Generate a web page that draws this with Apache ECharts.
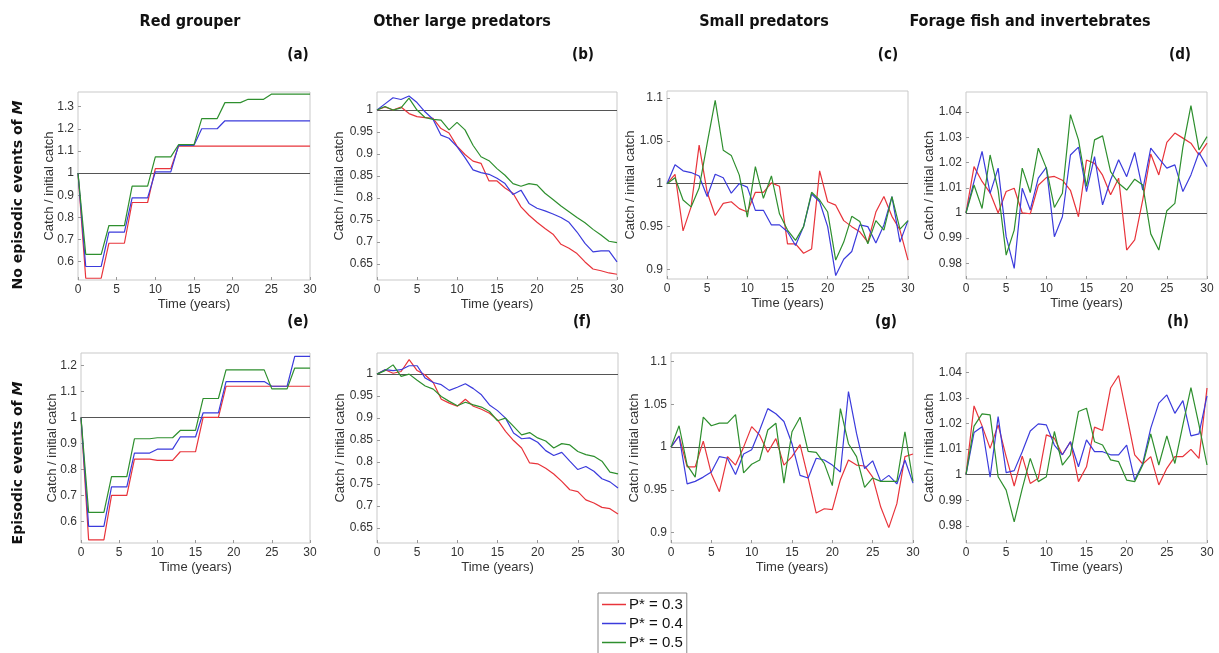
<!DOCTYPE html>
<html><head><meta charset="utf-8">
<script src="https://cdn.jsdelivr.net/npm/echarts@6/dist/echarts.min.js"></script>
<style>html,body{margin:0;padding:0;background:#fff}#c{width:1219px;height:653px}</style>
</head><body><div id="c"></div>
<script>
// ---------- DATA ----------
const years = [0,1,2,3,4,5,6,7,8,9,10,11,12,13,14,15,16,17,18,19,20,21,22,23,24,25,26,27,28,29,30];
const seriesNames = ['P* = 0.3', 'P* = 0.4', 'P* = 0.5'];
const columnTitles = ['Red grouper', 'Other large predators', 'Small predators', 'Forage fish and invertebrates'];
const panelLetters = ['(a)', '(b)', '(c)', '(d)', '(e)', '(f)', '(g)', '(h)'];
const rowLabels = ['No episodic events of ', 'Episodic events of '];
const rowLabelItalic = 'M';
const xAxisTitle = 'Time (years)';
const yAxisTitle = 'Catch / initial catch';
const referenceValue = 1;

// (a) Red grouper, no episodic events
const redA   = [1,0.525,0.525,0.525,0.683,0.683,0.683,0.867,0.867,0.867,1.02,1.02,1.02,1.122,1.122,1.122,1.122,1.122,1.122,1.122,1.122,1.122,1.122,1.122,1.122,1.122,1.122,1.122,1.122,1.122,1.122];
const blueA  = [1,0.578,0.578,0.578,0.733,0.733,0.733,0.888,0.888,0.888,1.005,1.005,1.005,1.125,1.125,1.125,1.2,1.2,1.2,1.236,1.236,1.236,1.236,1.236,1.236,1.236,1.236,1.236,1.236,1.236,1.236];
const greenA = [1,0.633,0.633,0.633,0.763,0.763,0.763,0.941,0.941,0.941,1.073,1.073,1.073,1.128,1.128,1.128,1.246,1.246,1.246,1.318,1.318,1.318,1.333,1.333,1.333,1.356,1.356,1.356,1.356,1.356,1.356];
const yTicksA = [0.6,0.7,0.8,0.9,1,1.1,1.2,1.3];
const yRangeA = [0.517, 1.366];

// (b) Other large predators, no episodic events
const redB   = [1,1.007,1,1.007,0.992,0.985,0.983,0.981,0.958,0.948,0.918,0.899,0.884,0.879,0.839,0.839,0.823,0.811,0.78,0.761,0.745,0.731,0.718,0.695,0.686,0.674,0.655,0.639,0.635,0.63,0.627];
const blueB  = [1,1.014,1.028,1.024,1.032,1.017,0.996,0.979,0.943,0.936,0.917,0.892,0.864,0.858,0.854,0.845,0.833,0.808,0.818,0.788,0.777,0.771,0.764,0.756,0.745,0.723,0.697,0.678,0.68,0.68,0.655];
const greenB = [1,1.008,1,1.005,1.027,1,0.983,0.979,0.977,0.955,0.972,0.955,0.92,0.894,0.885,0.867,0.852,0.833,0.827,0.833,0.83,0.811,0.797,0.782,0.769,0.756,0.744,0.729,0.716,0.702,0.699];
const yTicksB = [0.65,0.7,0.75,0.8,0.85,0.9,0.95,1];
const yRangeB = [0.614, 1.041];

// (c) Small predators, no episodic events
const redC   = [1,1.011,0.945,0.973,1.045,0.99,0.963,0.977,0.979,0.971,0.967,0.99,0.99,1.001,0.997,0.93,0.93,0.919,0.924,1.015,0.979,0.975,0.957,0.95,0.944,0.932,0.967,0.985,0.962,0.946,0.911];
const blueC  = [1,1.022,1.015,1.013,1.009,0.985,1.011,1.007,0.989,1,0.996,0.969,0.969,0.952,0.952,0.944,0.928,0.95,0.988,0.979,0.95,0.893,0.912,0.921,0.952,0.95,0.931,0.952,0.985,0.932,0.957];
const greenC = [1,1.007,0.981,0.973,0.995,1.047,1.097,1.039,1.033,1.01,0.961,1.02,0.983,1.009,0.965,0.946,0.934,0.95,0.99,0.981,0.967,0.911,0.932,0.962,0.956,0.93,0.957,0.946,0.985,0.947,0.957];
const yTicksC = [0.9,0.95,1,1.05,1.1];
const yRangeC = [0.889, 1.108];

// (d) Forage fish and invertebrates, no episodic events
const redD   = [1,1.0184,1.0125,1.008,1,1.0085,1.0098,1,0.9997,1.011,1.014,1.0145,1.013,1.009,0.9985,1.021,1.0197,1.015,1.0072,1.0138,0.9853,0.9893,1.0052,1.0234,1.0151,1.028,1.0317,1.0297,1.0277,1.023,1.0277];
const blueD  = [1,1.0125,1.0244,1.0078,1.0178,0.9906,0.978,1.0098,1.0012,1.0138,1.0181,0.9906,0.9985,1.023,1.0261,1.0085,1.0224,1.0032,1.0131,1.0211,1.0144,1.024,1.0091,1.0257,1.0217,1.0178,1.0191,1.0085,1.0151,1.024,1.0184];
const greenD = [1,1.0111,1.0018,1.023,1.0091,0.9833,0.9932,1.0178,1.0081,1.0257,1.0178,1.0022,1.0078,1.039,1.029,1.0105,1.029,1.0306,1.0164,1.0118,1.0091,1.0134,1.0111,0.9917,0.9853,1.0009,1.0038,1.0261,1.0426,1.025,1.0303];
const yTicksD = [0.98,0.99,1,1.01,1.02,1.03,1.04];
const yRangeD = [0.9738, 1.048];

// (e) Red grouper, episodic events
const redE   = [1,0.529,0.529,0.529,0.7,0.7,0.7,0.84,0.84,0.84,0.835,0.835,0.835,0.868,0.868,0.868,1,1,1,1.12,1.12,1.12,1.12,1.12,1.12,1.12,1.12,1.12,1.12,1.12,1.12];
const blueE  = [1,0.581,0.581,0.581,0.733,0.733,0.733,0.863,0.863,0.863,0.878,0.878,0.878,0.925,0.925,0.925,1.018,1.018,1.018,1.138,1.138,1.138,1.138,1.138,1.138,1.12,1.12,1.12,1.235,1.235,1.235];
const greenE = [1,0.635,0.635,0.635,0.772,0.772,0.772,0.918,0.918,0.918,0.922,0.922,0.922,0.95,0.95,0.95,1.073,1.073,1.073,1.183,1.183,1.183,1.183,1.183,1.183,1.11,1.11,1.11,1.19,1.19,1.19];
const yTicksE = [0.6,0.7,0.8,0.9,1,1.1,1.2];
const yRangeE = [0.517, 1.248];

// (f) Other large predators, episodic events
const redF   = [1,1.01,1.002,1.006,1.033,1.008,0.998,0.981,0.943,0.934,0.927,0.943,0.927,0.92,0.911,0.896,0.87,0.849,0.832,0.798,0.796,0.786,0.773,0.756,0.737,0.733,0.714,0.707,0.697,0.694,0.682];
const blueF  = [1,1.01,1.008,1.01,1.019,1.019,0.991,0.981,0.976,0.963,0.97,0.978,0.967,0.953,0.93,0.917,0.9,0.866,0.853,0.855,0.845,0.826,0.815,0.822,0.802,0.783,0.79,0.779,0.762,0.755,0.741];
const greenF = [1,1.008,1.021,0.995,1,0.986,0.973,0.966,0.949,0.938,0.928,0.936,0.93,0.925,0.915,0.894,0.9,0.881,0.862,0.867,0.855,0.848,0.832,0.842,0.839,0.824,0.817,0.813,0.802,0.777,0.773];
const yTicksF = [0.65,0.7,0.75,0.8,0.85,0.9,0.95,1];
const yRangeF = [0.616, 1.048];

// (g) Small predators, episodic events
const redG   = [1,1.013,0.977,0.977,1.007,0.969,0.948,0.989,0.979,1,1.024,1.014,0.994,1.01,0.979,0.989,1.003,0.964,0.923,0.928,0.927,0.962,0.985,0.979,0.978,0.965,0.93,0.906,0.934,0.989,0.992];
const blueG  = [1,1.013,0.957,0.96,0.965,0.971,0.989,0.987,0.968,0.992,0.997,1.02,1.045,1.039,1.03,1.004,0.967,0.964,0.987,0.985,0.979,0.971,1.065,1.016,0.975,0.984,0.96,0.967,0.957,0.985,0.958];
const greenG = [1,1.025,0.979,0.965,1.035,1.025,1.028,1.028,1.038,0.97,0.98,0.985,1.02,1.028,0.958,1.018,1.035,0.995,0.994,0.981,0.955,1.045,1.004,0.989,0.953,0.964,0.96,0.96,0.96,1.018,0.96];
const yTicksG = [0.9,0.95,1,1.05,1.1];
const yRangeG = [0.888, 1.11];

// (h) Forage fish and invertebrates, episodic events
const redH   = [1,1.0269,1.0191,1.0103,1.0195,1.0071,0.9956,1.0073,0.9966,0.9986,1.0156,1.0143,1.0078,1.0129,0.9973,1.0031,1.0186,1.0173,1.0339,1.0388,1.0234,1.0078,1.0042,1.0071,0.996,1.0025,1.0071,1.0071,1.0099,1.0064,1.0339];
const blueH  = [1,1.0165,1.0188,0.999,1.0227,1.0008,1.0016,1.009,1.0171,1.0199,1.0195,1.0116,1.0078,1.0129,1.0031,1.0136,1.009,1.009,1.0078,1.0078,1.0116,0.9979,1.0044,1.0182,1.028,1.0312,1.024,1.029,1.0152,1.016,1.0308];
const greenH = [1,1.019,1.0238,1.0234,0.9992,0.994,0.9816,0.9946,1.0064,0.9973,0.9992,1.0169,1.0038,1.0078,1.0247,1.026,1.0129,1.0116,1.0058,1.0051,0.9979,0.9973,1.0038,1.016,1.0038,1.0152,1.0044,1.0195,1.0341,1.0195,1.0038];
const yTicksH = [0.98,0.99,1,1.01,1.02,1.03,1.04];
const yRangeH = [0.9733, 1.0476];

// ---------- LAYOUT / STYLE ----------
const colors = ['#e8343b', '#3b3bdc', '#2e8f2e'];
const panels = [
  {r: redA, b: blueA, g: greenA, t: yTicksA, y: yRangeA, box: [78, 92, 232, 188], nameGap: 22},
  {r: redB, b: blueB, g: greenB, t: yTicksB, y: yRangeB, box: [377, 92, 240, 188], nameGap: 31},
  {r: redC, b: blueC, g: greenC, t: yTicksC, y: yRangeC, box: [667, 91, 241, 188], nameGap: 30},
  {r: redD, b: blueD, g: greenD, t: yTicksD, y: yRangeD, box: [966, 92, 241, 187], nameGap: 30},
  {r: redE, b: blueE, g: greenE, t: yTicksE, y: yRangeE, box: [81, 353, 229, 190], nameGap: 22},
  {r: redF, b: blueF, g: greenF, t: yTicksF, y: yRangeF, box: [377, 353, 241, 190], nameGap: 30},
  {r: redG, b: blueG, g: greenG, t: yTicksG, y: yRangeG, box: [671, 353, 242, 190], nameGap: 30},
  {r: redH, b: blueH, g: greenH, t: yTicksH, y: yRangeH, box: [966, 353, 241, 190], nameGap: 30}
];
const titleX = [190, 462, 764, 1030];
const letterPos = [[298,55],[583,55],[888,55],[1180,55],[298,322],[582,322],[886,322],[1178,322]];
const rowLabelPos = [[18,195],[18,463]];

const labelFont = {fontFamily: 'Liberation Sans, Arial, sans-serif', fontSize: 12, color: '#333'};
const boldFont = "'DejaVu Sans Condensed', 'DejaVu Sans', sans-serif";

const grid = [], xAxis = [], yAxis = [], series = [];
panels.forEach((p, i) => {
  grid.push({left: p.box[0], top: p.box[1], width: p.box[2], height: p.box[3],
    show: true, borderColor: '#c9c9c9', borderWidth: 1, backgroundColor: '#fff', containLabel: false});
  xAxis.push({type: 'value', gridIndex: i, min: 0, max: 30, interval: 5,
    name: xAxisTitle, nameLocation: 'middle', nameGap: 18, nameMoveOverlap: false,
    nameTextStyle: {fontFamily: labelFont.fontFamily, fontSize: 13, color: '#333'},
    axisLine: {show: false},
    axisTick: {show: true, inside: true, length: 3, lineStyle: {color: '#999'}},
    axisLabel: Object.assign({margin: 4}, labelFont),
    splitLine: {show: false}});
  yAxis.push({type: 'value', gridIndex: i, min: p.y[0], max: p.y[1],
    name: yAxisTitle, nameLocation: 'middle', nameGap: p.nameGap, nameRotate: 90, nameMoveOverlap: false,
    nameTextStyle: {fontFamily: labelFont.fontFamily, fontSize: 13, color: '#333'},
    axisLine: {show: false},
    axisTick: {show: true, inside: true, length: 3, customValues: p.t, lineStyle: {color: '#999'}},
    axisLabel: Object.assign({margin: 4, customValues: p.t, formatter: v => String(v)}, labelFont),
    splitLine: {show: false}});
  [p.r, p.b, p.g].forEach((arr, k) => {
    const s = {
      name: seriesNames[k], type: 'line', xAxisIndex: i, yAxisIndex: i,
      data: years.map((yr, j) => [yr, arr[j]]),
      showSymbol: false, symbol: 'none', animation: false,
      lineStyle: {color: colors[k], width: 1.2}, itemStyle: {color: colors[k]},
      z: 3
    };
    if (k === 0) {
      s.markLine = {silent: true, symbol: 'none', label: {show: false}, animation: false,
        lineStyle: {color: '#555', width: 1.2, type: 'solid'},
        data: [{yAxis: referenceValue}], z: 2};
    }
    series.push(s);
  });
});

const graphic = [];
columnTitles.forEach((t, i) => graphic.push({type: 'text', x: titleX[i], y: 22,
  style: {text: t, fontFamily: boldFont, fontWeight: 'bold', fontSize: 16, fill: '#111', textAlign: 'center', textVerticalAlign: 'middle'}}));
panelLetters.forEach((t, i) => graphic.push({type: 'text', x: letterPos[i][0], y: letterPos[i][1],
  style: {text: t, fontFamily: boldFont, fontWeight: 'bold', fontSize: 15, fill: '#111', textAlign: 'center', textVerticalAlign: 'middle'}}));
rowLabels.forEach((t, i) => graphic.push({type: 'text', x: rowLabelPos[i][0], y: rowLabelPos[i][1], rotation: Math.PI / 2,
  style: {text: '{b|' + t + '}{i|' + rowLabelItalic + '}', textAlign: 'center', textVerticalAlign: 'middle',
    rich: {b: {fontFamily: "'DejaVu Sans', sans-serif", fontWeight: 'bold', fontSize: 14, fill: '#111', color: '#111'},
           i: {fontFamily: "'DejaVu Sans', sans-serif", fontWeight: 'bold', fontStyle: 'italic', fontSize: 14, fill: '#111', color: '#111'}}}}));

const option = {
  animation: false,
  backgroundColor: '#fff',
  grid, xAxis, yAxis, series, graphic,
  legend: {data: seriesNames, orient: 'vertical', left: 598, top: 593, width: 92, height: 80,
    icon: 'rect', itemWidth: 24, itemHeight: 1.5, itemGap: 2,
    borderColor: '#888', borderWidth: 1, padding: [3, 4, 6, 4],
    textStyle: {fontFamily: 'Liberation Sans, Arial, sans-serif', fontSize: 15, lineHeight: 17, color: '#111', padding: [0, 0, 0, -2]}}
};
const chart = echarts.init(document.getElementById('c'), null, {renderer: 'canvas'});
chart.setOption(option);
</script></body></html>
